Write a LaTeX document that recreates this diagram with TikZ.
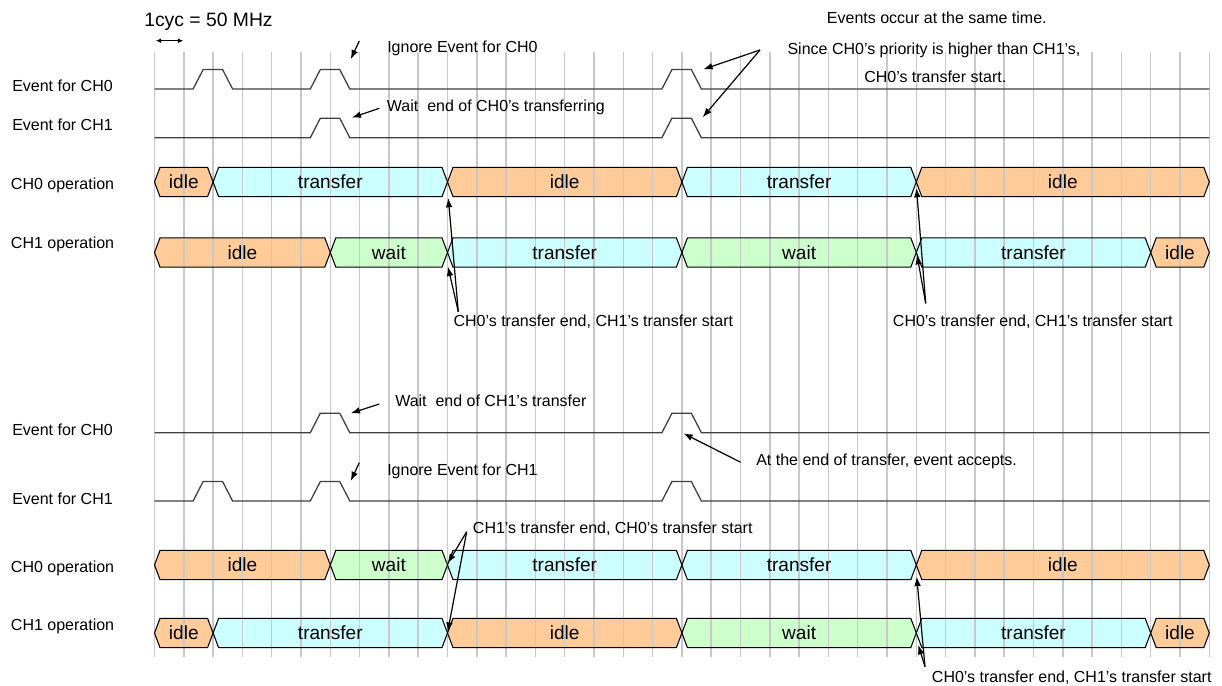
\documentclass[tikz,border=0pt]{standalone}
\usepackage{fontspec}
\setmainfont{Liberation Sans}
\usetikzlibrary{arrows.meta}
\definecolor{idlec}{HTML}{FFCC99}
\definecolor{xferc}{HTML}{CCFFFF}
\definecolor{waitc}{HTML}{CCFFCC}
\definecolor{gridc}{HTML}{C8C8C8}
\definecolor{sigc}{HTML}{404040}
\pgfdeclarelayer{paper}
\pgfdeclarelayer{bg}
\pgfdeclarelayer{fg}
\pgfsetlayers{paper,bg,main,fg}
\tikzset{
 lbl/.style={anchor=base west, inner sep=0pt, font=\fontsize{12}{14}\selectfont},
 note/.style={anchor=base west, inner sep=0pt, font=\fontsize{12}{14}\selectfont},
 bigtxt/.style={anchor=base west, inner sep=0pt, font=\fontsize{14.5}{17}\selectfont},
 bustxt/.style={anchor=base, inner sep=0pt, font=\fontsize{14.3}{16}\selectfont},
 gridline/.style={draw=gridc, line width=1.1pt},
 sig/.style={draw=sigc, line width=0.95pt},
 busbox/.style={draw=black, line width=0.8pt, line join=miter},
 callout/.style={draw=black, line width=0.9pt, -{Latex[length=7pt,width=5pt]}},
 dblarrow/.style={draw=black, line width=0.9pt, {Latex[length=4pt,width=3.5pt]}-{Latex[length=4pt,width=3.5pt]}},
}
% #1 start idx, #2 end idx, #3 center y, #4 fill colour, #5 text, #6 node name
\newcommand\busseg[6]{%
 \begin{pgfonlayer}{bg}
 \fill[#4] ({154.5+29.3*#1},#3) -- ({154.5+29.3*#1+5.5},#3-14.6) -- ({154.5+29.3*#2-5.5},#3-14.6) -- ({154.5+29.3*#2},#3) -- ({154.5+29.3*#2-5.5},#3+14.6) -- ({154.5+29.3*#1+5.5},#3+14.6) -- cycle;
 \end{pgfonlayer}
 \begin{pgfonlayer}{fg}
 \draw[busbox] ({154.5+29.3*#1},#3) -- ({154.5+29.3*#1+5.5},#3-14.6) -- ({154.5+29.3*#2-5.5},#3-14.6) -- ({154.5+29.3*#2},#3) -- ({154.5+29.3*#2-5.5},#3+14.6) -- ({154.5+29.3*#1+5.5},#3+14.6) -- cycle;
 \node[bustxt] (#6) at ({154.5+29.3*(#1+#2)/2},#3+6.5) {#5};
 \end{pgfonlayer}}
\newcommand\pulse[2]{-- ({154.5+29.3*#1-20},#2) -- ({154.5+29.3*#1-10},#2-19.4) -- ({154.5+29.3*#1+9.5},#2-19.4) -- ({154.5+29.3*#1+19.5},#2)}
\begin{document}
\begin{tikzpicture}[x=0.75pt,y=-0.75pt]
\useasboundingbox (0,0) rectangle (1222,686);
\begin{pgfonlayer}{paper}
\fill[white] (0,0) rectangle (1222,686);
\end{pgfonlayer}
% grid
\foreach \i in {0,...,36} \draw[gridline] ({154.5+29.3*\i},52) -- ({154.5+29.3*\i},657);

% row labels
\node[lbl] (l1) at (12,91.7) {Event for CH0};
\node[lbl] (l2) at (12,130.7) {Event for CH1};
\node[lbl] (l3) at (10.7,189.3) {CH0 operation};
\node[lbl] (l4) at (10.7,248.5) {CH1 operation};
\node[lbl] (l5) at (12,435) {Event for CH0};
\node[lbl] (l6) at (12,504) {Event for CH1};
\node[lbl] (l7) at (10.7,572) {CH0 operation};
\node[lbl] (l8) at (10.7,630.7) {CH1 operation};

% event signals
\begin{pgfonlayer}{fg}
\draw[sig] (154.5,89) \pulse{2}{89} \pulse{6}{89} \pulse{18}{89} -- (1209.3,89);
\draw[sig] (154.5,137.7) \pulse{6}{137.7} \pulse{18}{137.7} -- (1209.3,137.7);
\draw[sig] (154.5,432.7) \pulse{6}{432.7} \pulse{18}{432.7} -- (1209.3,432.7);
\draw[sig] (154.5,501) \pulse{2}{501} \pulse{6}{501} \pulse{18}{501} -- (1209.3,501);
\end{pgfonlayer}

% top CH0 operation
\busseg{0}{2}{182}{idlec}{idle}{a1}
\busseg{2}{10}{182}{xferc}{transfer}{a2}
\busseg{10}{18}{182}{idlec}{idle}{a3}
\busseg{18}{26}{182}{xferc}{transfer}{a4}
\busseg{26}{36}{182}{idlec}{idle}{a5}
% top CH1 operation
\busseg{0}{6}{252.5}{idlec}{idle}{b1}
\busseg{6}{10}{252.5}{waitc}{wait}{b2}
\busseg{10}{18}{252.5}{xferc}{transfer}{b3}
\busseg{18}{26}{252.5}{waitc}{wait}{b4}
\busseg{26}{34}{252.5}{xferc}{transfer}{b5}
\busseg{34}{36}{252.5}{idlec}{idle}{b6}
% bottom CH0 operation
\busseg{0}{6}{565}{idlec}{idle}{c1}
\busseg{6}{10}{565}{waitc}{wait}{c2}
\busseg{10}{18}{565}{xferc}{transfer}{c3}
\busseg{18}{26}{565}{xferc}{transfer}{c4}
\busseg{26}{36}{565}{idlec}{idle}{c5}
% bottom CH1 operation
\busseg{0}{2}{633}{idlec}{idle}{d1}
\busseg{2}{10}{633}{xferc}{transfer}{d2}
\busseg{10}{18}{633}{idlec}{idle}{d3}
\busseg{18}{26}{633}{waitc}{wait}{d4}
\busseg{26}{34}{633}{xferc}{transfer}{d5}
\busseg{34}{36}{633}{idlec}{idle}{d6}

% annotations
\node[bigtxt] (cyc) at (144,26.7) {1cyc = 50 MHz};
\coordinate (cycL) at (155.7,40.7);
\coordinate (cycR) at (183.3,40.7);
\draw[dblarrow] (cycL) -- (cycR);

\node[note] (n1) at (387,52.7) {Ignore Event for CH0};
\node[note] (n2) at (386.7,111.7) {Wait\ \ end of CH0’s transferring};
\node[note] (n3) at (826.7,23.3) {Events occur at the same time.};
\node[note] (n4) at (787.3,54) {Since CH0’s priority is higher than CH1’s,};
\node[note] (n5) at (864,82.3) {CH0’s transfer start.};
\node[note] (n6) at (453.3,326.7) {CH0’s transfer end, CH1’s transfer start};
\node[note] (n7) at (892.7,326.7) {CH0’s transfer end, CH1’s transfer start};
\node[note] (n8) at (395,406) {Wait\ \ end of CH1’s transfer};
\node[note] (n9) at (387,475.7) {Ignore Event for CH1};
\node[note] (n10) at (756,465.7) {At the end of transfer, event accepts.};
\node[note] (n11) at (472.7,533.3) {CH1’s transfer end, CH0’s transfer start};
\node[note] (n12) at (931.7,682.7) {CH0’s transfer end, CH1’s transfer start};

% callout coordinates
\coordinate (s1) at (359.3,41);    \coordinate (e1) at (350.7,59.3);
\coordinate (s2) at (379.3,108.3); \coordinate (e2) at (351.7,117.7);
\coordinate (s3) at (760,50);      \coordinate (e3a) at (703.3,69.3); \coordinate (e3b) at (702.7,117.3);
\coordinate (s4) at (458.3,311.7); \coordinate (e4a) at (448.3,198);  \coordinate (e4b) at (448,266.7);
\coordinate (s5) at (925.7,303.3); \coordinate (e5a) at (916.5,188);  \coordinate (e5b) at (917,255);
\coordinate (s6) at (379.3,404);   \coordinate (e6) at (350.7,413.3);
\coordinate (s7) at (359.3,462.7); \coordinate (e7) at (350.7,481);
\coordinate (s8) at (740.7,462.3); \coordinate (e8) at (683.3,433.3);
\coordinate (s9) at (466.7,531.7); \coordinate (e9a) at (447.7,563.3); \coordinate (e9b) at (447.7,631.7);
\coordinate (s10) at (925,666.7);  \coordinate (e10a) at (916.7,576.7); \coordinate (e10b) at (918.3,645);

\begin{pgfonlayer}{fg}
\draw[callout] (s1) -- (e1);
\draw[callout] (s2) -- (e2);
\draw[callout] (s3) -- (e3a);
\draw[callout] (s3) -- (e3b);
\draw[callout] (s4) -- (e4a);
\draw[callout] (s4) -- (e4b);
\draw[callout] (s5) -- (e5a);
\draw[callout] (s5) -- (e5b);
\draw[callout] (s6) -- (e6);
\draw[callout] (s7) -- (e7);
\draw[callout] (s8) -- (e8);
\draw[callout] (s9) -- (e9a);
\draw[callout] (s9) -- (e9b);
\draw[callout] (s10) -- (e10a);
\draw[callout] (s10) -- (e10b);
\end{pgfonlayer}
\end{tikzpicture}
\end{document}
